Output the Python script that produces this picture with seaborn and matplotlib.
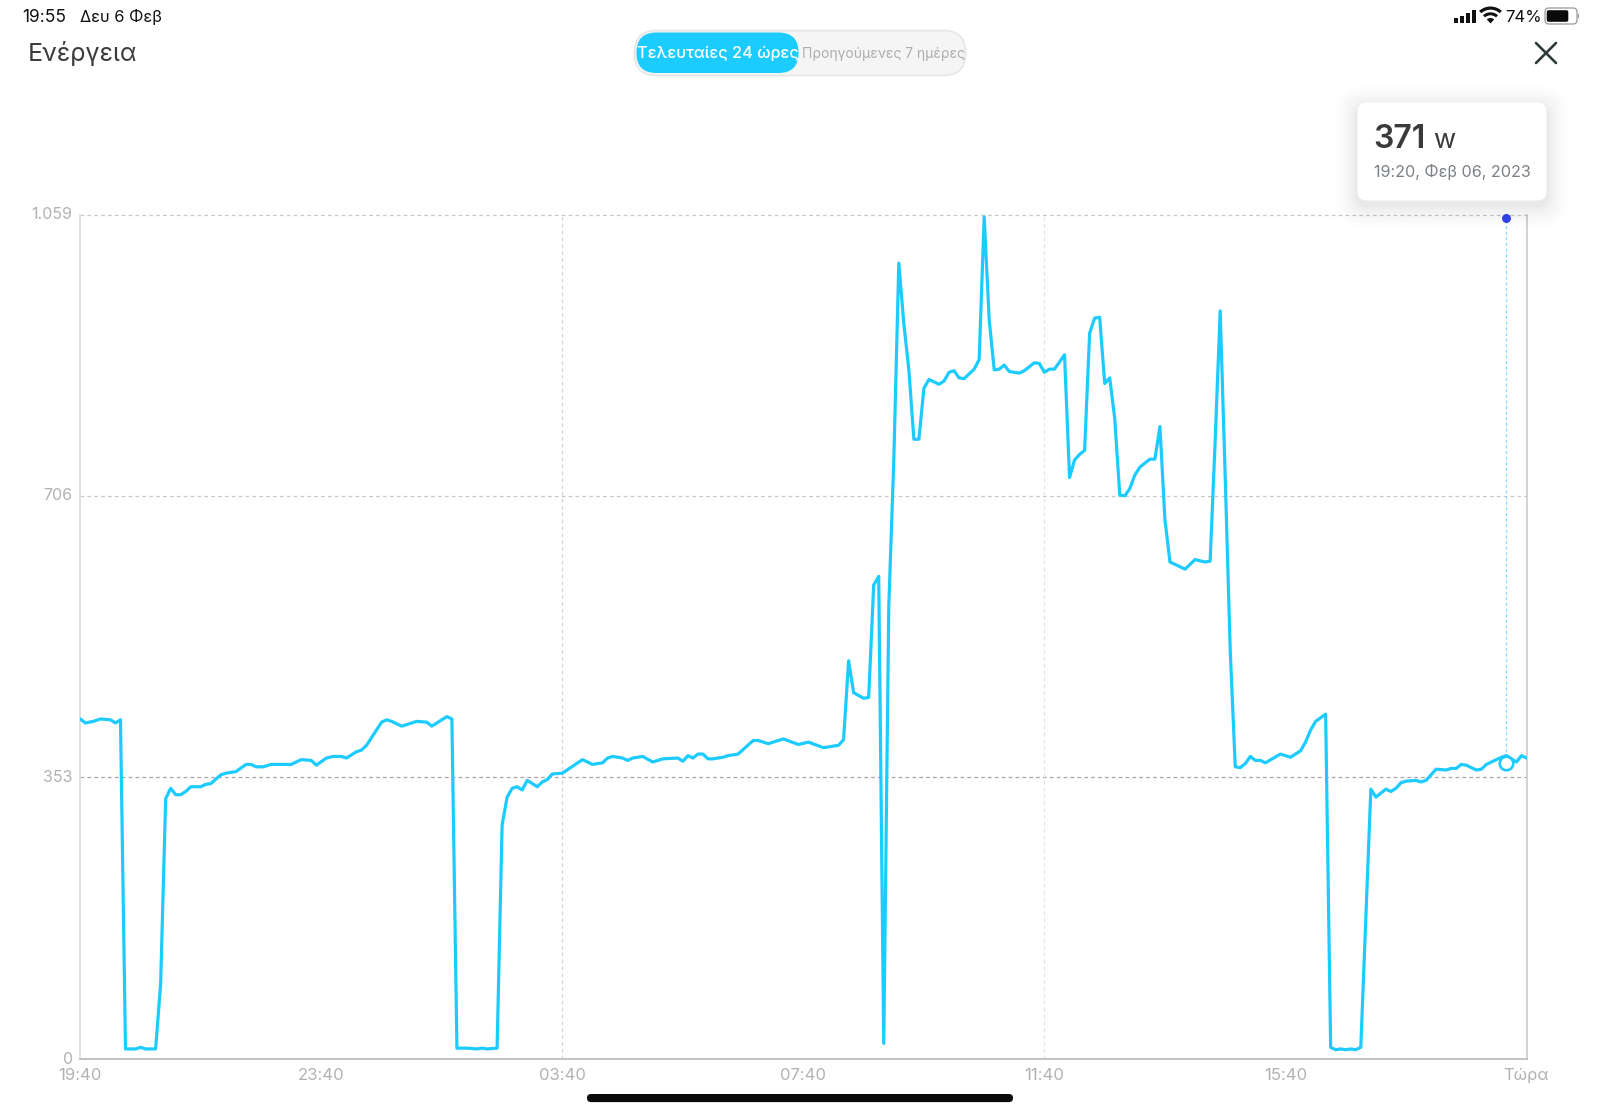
import matplotlib
matplotlib.use("Agg")
import matplotlib.pyplot as plt
import seaborn as sns
import pandas as pd
from matplotlib.patches import FancyBboxPatch, Rectangle, Wedge
from matplotlib.transforms import ScaledTranslation

minutes = [0, 5, 13, 20, 30, 35, 40, 45, 55, 60, 65, 75, 80, 85, 90, 95, 100, 105, 110, 120, 125, 130,
           140, 145, 155, 165, 170, 175, 182, 190, 205, 210, 220, 230, 235, 245, 252, 260, 265, 275, 280, 285,
           300, 305, 310, 320, 335, 345, 350, 365, 370, 375, 385, 395, 400, 405, 415, 420, 425, 430, 435, 440,
           445, 455, 460, 465, 470, 480, 500, 510, 520, 525, 530, 540, 545, 550, 560, 570, 580, 595, 600, 605,
           610, 615, 620, 625, 630, 640, 645, 655, 670, 675, 685, 700, 715, 725, 740, 755, 760, 765, 770, 780,
           785, 790, 795, 800, 805, 810, 815, 820, 825, 830, 835, 840, 845, 855, 860, 865, 870, 875, 880, 890,
           895, 900, 905, 910, 915, 920, 925, 935, 940, 950, 955, 960, 965, 970, 980, 985, 990, 995, 1000, 1005,
           1010, 1015, 1020, 1025, 1030, 1035, 1040, 1045, 1050, 1055, 1065, 1070, 1075, 1080, 1085, 1100, 1110,
           1120, 1125, 1130, 1135, 1140, 1145, 1150, 1155, 1160, 1165, 1170, 1175, 1180, 1195, 1205, 1215, 1220,
           1225, 1230, 1240, 1245, 1250, 1255, 1260, 1265, 1270, 1275, 1285, 1290, 1300, 1305, 1310, 1315, 1320,
           1330, 1335, 1340, 1350, 1360, 1365, 1370, 1375, 1380, 1390, 1395, 1400, 1405, 1415, 1420, 1430, 1435, 1440]
watts = [426, 421, 423, 426, 425, 421, 425, 12, 12, 14, 12, 12, 94, 326, 339, 331, 331, 335, 341, 341, 344, 345,
         356, 358, 360, 369, 369, 366, 366, 369, 369, 369, 375, 374, 368, 377, 379, 379, 377, 385, 387, 393,
         422, 425, 423, 417, 423, 422, 417, 429, 426, 13, 13, 12, 13, 12, 13, 293, 328, 339, 341, 337,
         349, 341, 347, 350, 357, 358, 375, 369, 371, 377, 379, 377, 374, 377, 379, 372, 376, 377, 373, 380,
         377, 382, 382, 376, 376, 378, 380, 382, 399, 399, 395, 401, 394, 397, 390, 393, 400, 499, 459, 452,
         453, 594, 605, 19, 567, 750, 998, 922, 864, 777, 777, 841, 852, 846, 850, 861, 863, 854, 853, 865,
         877, 1056, 927, 864, 865, 870, 862, 860, 863, 873, 872, 861, 865, 865, 883, 729, 751, 758, 763, 910,
         929, 930, 847, 854, 803, 707, 706, 715, 732, 742, 752, 752, 793, 676, 623, 614, 626,
         623, 624, 775, 938, 730, 512, 366, 365, 370, 379, 374, 374, 371, 382, 378, 386, 397,
         412, 423, 432, 14, 11, 12, 11, 12, 11, 14, 338, 328, 338, 335, 339, 346, 348,
         349, 347, 349, 363, 362, 364, 364, 369, 368, 362, 363, 369, 372, 378, 380, 372, 380, 377]

x_ticks = [0, 240, 480, 720, 960, 1200, 1440]
x_labels = ["19:40", "23:40", "03:40", "07:40", "11:40", "15:40", "Τώρα"]
y_ticks = [0, 353, 706, 1059]
y_labels = ["0", "353", "706", "1.059"]
v_grid = [480, 960]
sel_minute = 1420
sel_watts = 371
top_dot = 1054

CYAN = "#1ccbff"
sns.set_theme(style="white")
plt.rcParams["font.family"] = ["Inter", "Noto Sans", "DejaVu Sans"]

W, H = 1600, 1112
fig = plt.figure(figsize=(W / 100, H / 100), dpi=100, facecolor="white")
L, R, T, B = 80.3, 1526.5, 214.5, 1058.5
ax = fig.add_axes([L / W, 1 - B / H, (R - L) / W, (B - T) / H])
ax.set_xlim(0, 1440)
ax.set_ylim(0, 1059)

for v, c in [(1059, "#c8c8c8"), (706, "#c8c8c8"), (353, "#a6a6a6")]:
    ax.axhline(v, color=c, lw=0.9, ls=(0, (3, 2.5)), zorder=1, clip_on=False)
for i, v in enumerate(v_grid):
    ax.axvline(v, color="#d4d4d4" if i == 0 else "#e4e4e4", lw=0.9, ls=(0, (3, 2.5)), zorder=1)

df = pd.DataFrame({"minute": minutes, "watts": watts})
sns.lineplot(data=df, x="minute", y="watts", ax=ax, color=CYAN, lw=2.3, estimator=None,
             errorbar=None, sort=False, zorder=3)
ax.lines[-1].set_solid_joinstyle("round")

ax.plot([sel_minute, sel_minute], [sel_watts, top_dot], color="#7fe0ff", lw=0.9, ls=(0, (2.5, 2)), zorder=2)
ax.scatter([sel_minute], [sel_watts], s=95, facecolor="white", edgecolor=CYAN, linewidth=1.9, zorder=4, clip_on=False)
ax.scatter([sel_minute], [top_dot], s=42, color="#3344ee", zorder=4, clip_on=False, linewidth=0)

ax.set_xlabel("")
ax.set_ylabel("")
ax.set_xticks(x_ticks, x_labels)
ax.set_yticks(y_ticks, y_labels)
ax.tick_params(axis="both", length=0, labelcolor="#b2b2b2")
ax.tick_params(axis="x", pad=7, labelsize=12)
ax.tick_params(axis="y", pad=5.5, labelsize=11.5)
lift = ScaledTranslation(0, 1.5 / 100, fig.dpi_scale_trans)
for lab, val in zip(ax.get_yticklabels(), y_ticks):
    if val:
        lab.set_transform(lab.get_transform() + lift)
for s, c in [("left", "#dedede"), ("bottom", "#bdbdbd"), ("right", "#cfcfcf")]:
    ax.spines[s].set_visible(True)
    ax.spines[s].set_color(c)
    ax.spines[s].set_linewidth(1.3)
ax.spines["top"].set_visible(False)

# interface around the chart, in pixel coordinates
ui = fig.add_axes([0, 0, 1, 1], zorder=5)
ui.set_xlim(0, W)
ui.set_ylim(H, 0)
ui.axis("off")
ui.patch.set_alpha(0)

ui.text(22, 17, "19:55", fontsize=12.5, color="#111111", va="center", ha="left")
ui.text(80, 17, "Δευ 6 Φεβ", fontsize=11.8, color="#111111", va="center", ha="left")
ui.text(27.5, 54, "Ενέργεια", fontsize=18, color="#3c3c3c", va="center", ha="left")

ui.add_patch(FancyBboxPatch((634.5 + 22, 30.5 + 22), 331 - 44, 45 - 44, boxstyle="round,pad=22,rounding_size=22",
                            fc="#f5f5f5", ec="#e6e6e6", lw=1.2))
ui.add_patch(FancyBboxPatch((636.5 + 20, 32.5 + 20), 162 - 40, 40.5 - 40, boxstyle="round,pad=20,rounding_size=20", fc=CYAN, ec="none"))
ui.text(717.5, 53.5, "Τελευταίες 24 ώρες", fontsize=11.8, color="white", va="center", ha="center", fontweight="medium")
ui.text(883, 53.5, "Προηγούμενες 7 ημέρες", fontsize=10, color="#aeaeae", va="center", ha="center")

ui.plot([1536, 1556], [43, 63], color="#2f3a3a", lw=1.9, solid_capstyle="round")
ui.plot([1536, 1556], [63, 43], color="#2f3a3a", lw=1.9, solid_capstyle="round")

for x0, h in [(1453.5, 4.5), (1459.5, 7), (1465.5, 10), (1471.5, 13)]:
    ui.add_patch(Rectangle((x0, 22.7 - h), 4.6, h, fc="#111111", ec="none"))
for r, w in [(17, 3.2), (11.2, 3.0)]:
    ui.add_patch(Wedge((1490.5, 23.5), r, 228, 312, width=w, fc="#111111", ec="none"))
ui.add_patch(Wedge((1490.5, 23.5), 5.5, 228, 312, fc="#111111", ec="none"))
ui.text(1505, 17, "74%", fontsize=12, color="#111111", va="center", ha="left")
ui.add_patch(FancyBboxPatch((1548, 11), 26, 10, boxstyle="round,pad=3,rounding_size=4", fc="none", ec="#9a9a9a", lw=0.9))
ui.add_patch(FancyBboxPatch((1548.5, 12), 18, 8, boxstyle="round,pad=1.8,rounding_size=2", fc="#0a0a0a", ec="none"))
ui.add_patch(Rectangle((1577.8, 14), 1.3, 4, fc="#9a9a9a", ec="none"))

# tooltip with soft shadow
tx0, ty0, tx1, ty1 = 1357.5, 102.5, 1546.5, 200.5
for grow, alpha in [(22, .006), (19, .007), (16, .008), (13, .009), (10, .010), (7, .012), (4, .014), (2, .016)]:
    ui.add_patch(FancyBboxPatch((tx0 + 9, ty0 + 9 + 5), tx1 - tx0 - 18, ty1 - ty0 - 18,
                                boxstyle=f"round,pad={9 + grow},rounding_size={9 + grow}", fc="black", ec="none", alpha=alpha))
ui.add_patch(FancyBboxPatch((tx0 + 9, ty0 + 9), tx1 - tx0 - 18, ty1 - ty0 - 18, boxstyle="round,pad=9,rounding_size=9",
                            fc="white", ec="none"))
ui.text(1373.5, 148.5, str(sel_watts), fontsize=23, color="#3a3a3a", va="baseline", ha="left", fontweight="semibold")
ui.text(1433, 148.5, "w", fontsize=19.5, color="#3a3a3a", va="baseline", ha="left")
ui.text(1373.5, 172.5, "19:20, Φεβ 06, 2023", fontsize=11.6, color="#7b8086", va="center", ha="left")

ui.add_patch(FancyBboxPatch((591, 1098), 418, 0.1, boxstyle="round,pad=4,rounding_size=4", fc="#0a0a0a", ec="none"))

fig.savefig("out.png", dpi=100)
